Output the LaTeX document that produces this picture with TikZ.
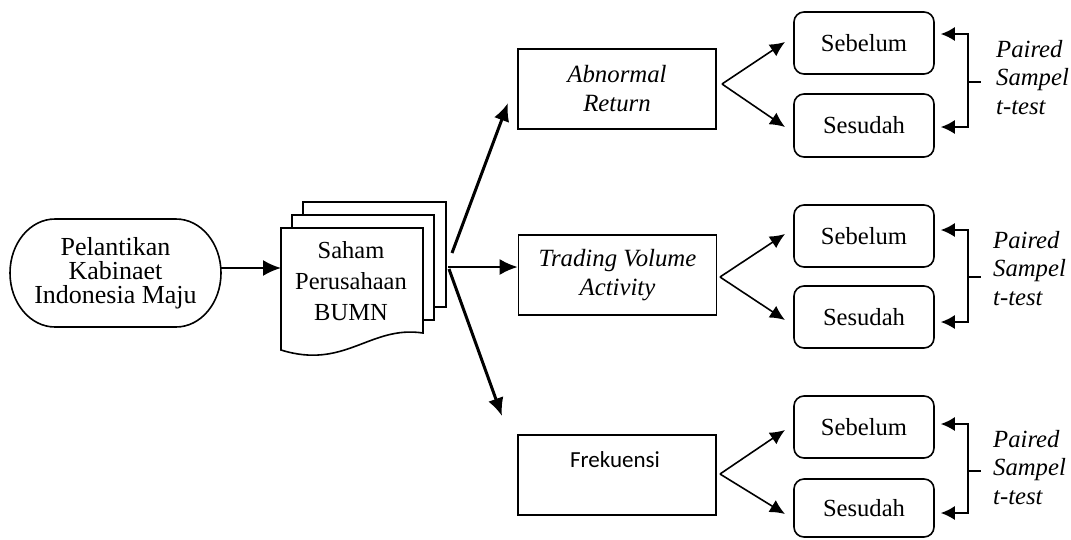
\documentclass[tikz,border=0pt]{standalone}
\usepackage{fontspec}
\setmainfont{LiberationSerif}[Extension=.ttf,UprightFont=*-Regular,ItalicFont=*-Italic,BoldFont=*-Bold,BoldItalicFont=*-BoldItalic]
\newfontfamily\calib{Carlito}
\usetikzlibrary{arrows.meta}
\begin{document}
\begin{tikzpicture}[x=1pt,y=-1pt,
  lw/.style={line width=1.6pt},
  mainbox/.style={draw,line width=1.6pt,minimum width=198pt,minimum height=80pt,inner sep=0,align=center,font=\fontsize{24.8}{29}\selectfont\itshape},
  subbox/.style={draw,line width=1.6pt,rounded corners=10pt,minimum width=140pt,minimum height=62pt,inner sep=0,font=\fontsize{24.6}{28}\selectfont},
  arr/.style={line width=1.6pt,-{Latex[length=15pt,width=14pt]}},
  botharr/.style={line width=1.6pt,{Latex[length=14pt,width=14pt]}-{Latex[length=14pt,width=14pt]}},
  bigarr/.style={line width=3pt,-{Latex[length=18pt,width=16pt]}},
  midarr/.style={line width=2.2pt,-{Latex[length=18pt,width=16pt]}},
  lab/.style={anchor=north west,inner sep=0,align=left,font=\fontsize{24.7}{28.5}\selectfont\itshape}
]
\useasboundingbox (0,0) rectangle (1071,539);

% Pill
\node[inner sep=0,minimum width=211pt,minimum height=108pt,align=center,font=\fontsize{26}{24}\selectfont] (pill) at (115.5,273) {Pelantikan\\Kabinaet\\Indonesia Maju};
\draw[lw] (176,219) arc[start angle=90,end angle=-90,x radius=45pt,y radius=54pt] -- (55,327) arc[start angle=270,end angle=90,x radius=45pt,y radius=54pt] -- cycle;

% Document stack
\draw[lw,fill=white] (303,202) rectangle (446,307);
\draw[lw,fill=white] (292,215) rectangle (434,320);
\draw[lw,fill=white] (281,228) -- (423,228) -- (423,333) .. controls (370,325) and (345,370) .. (281,350) -- cycle;
\node[inner sep=0,anchor=north,align=center,font=\fontsize{24.5}{31}\selectfont] (doc) at (351,241) {Saham\\Perusahaan\\BUMN};

\coordinate (docL) at (281,268);
\coordinate (docR1) at (452,253);
\coordinate (docR2) at (448,267);
\coordinate (docR3) at (449,269);
\coordinate (abtip) at (508,103);
\coordinate (frtip) at (502,416);

\draw[midarr,line width=2pt] (pill.east |- docL) -- (docL);

% Main boxes
\node[mainbox] (ab) at (617,89) {Abnormal\\Return};
\node[mainbox] (tv) at (617.5,275) {Trading Volume\\Activity};
\node[mainbox] (fr) at (617,475) {};
\node[inner sep=0,anchor=base,font=\calib\fontsize{23}{28}\selectfont] (frt) at (615,467) {Frekuensi};

\draw[bigarr] (docR1) -- (abtip);
\draw[midarr] (docR2) -- (docR2 -| tv.west);
\draw[bigarr] (docR3) -- (frtip);

% Sub boxes
\node[subbox] (s1) at (864,43) {Sebelum};
\node[subbox,minimum height=63pt] (d1) at (864,125.5) {Sesudah};
\node[subbox] (s2) at (864,236) {Sebelum};
\node[subbox] (d2) at (864,317) {Sesudah};
\node[subbox] (s3) at (864,427) {Sebelum};
\node[subbox,minimum height=58pt] (d3) at (864,508) {Sesudah};

% Branches
\coordinate (v1) at (722,84);
\coordinate (v2) at (720,277);
\coordinate (v3) at (720,474);
\coordinate (a1) at (785,42);  \coordinate (b1) at (785,127);
\coordinate (a2) at (785,234); \coordinate (b2) at (785,320);
\coordinate (a3) at (785,430); \coordinate (b3) at (785,514);
\draw[arr] (v1) -- (a1); \draw[arr] (v1) -- (b1);
\draw[arr] (v2) -- (a2); \draw[arr] (v2) -- (b2);
\draw[arr] (v3) -- (a3); \draw[arr] (v3) -- (b3);

% Brackets
\coordinate (k1a) at (968,34);  \coordinate (k1b) at (968,127); \coordinate (t1) at (968,82);
\coordinate (k2a) at (968,230); \coordinate (k2b) at (968,322); \coordinate (t2) at (968,277);
\coordinate (k3a) at (968,424); \coordinate (k3b) at (968,513); \coordinate (t3) at (968,471);
\draw[botharr] ([xshift=6pt]s1.east |- k1a) -- (k1a) -- (k1b) -- ([xshift=6pt]d1.east |- k1b);
\draw[botharr] ([xshift=6pt]s2.east |- k2a) -- (k2a) -- (k2b) -- ([xshift=6pt]d2.east |- k2b);
\draw[botharr] ([xshift=6pt]s3.east |- k3a) -- (k3a) -- (k3b) -- ([xshift=6pt]d3.east |- k3b);
\draw[lw] (t1) -- ++(13,0);
\draw[lw] (t2) -- ++(13,0);
\draw[lw] (t3) -- ++(13,0);

% Labels
\node[lab] (p1) at (996,40) {Paired\\Sampel\\t-test};
\node[lab] (p2) at (993,231) {Paired\\Sampel\\t-test};
\node[lab] (p3) at (993,430) {Paired\\Sampel\\t-test};
\end{tikzpicture}
\end{document}
